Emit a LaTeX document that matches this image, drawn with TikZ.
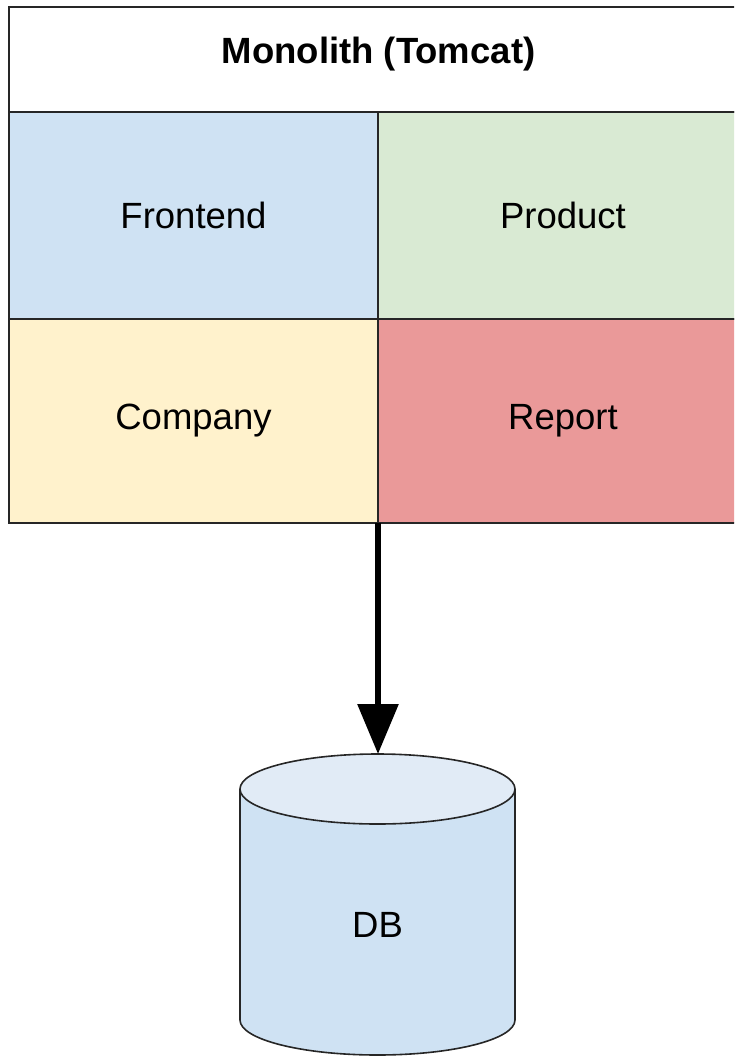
\documentclass[tikz,border=0pt]{standalone}
\usepackage{fontspec}
\setmainfont{Liberation Sans}
\usetikzlibrary{arrows.meta}
\definecolor{cfront}{HTML}{CFE2F3}
\definecolor{cprod}{HTML}{D9EAD3}
\definecolor{ccomp}{HTML}{FFF2CC}
\definecolor{crep}{HTML}{EA9999}
\definecolor{cdbtop}{HTML}{E1EBF6}
\begin{document}
\begin{tikzpicture}[x=1pt,y=1pt,
  cell/.style={draw=black!85,line width=1.6pt,inner sep=0pt,outer sep=0pt,anchor=north west,
    font=\fontsize{36.5}{40}\selectfont},
  title/.style={cell,font=\fontsize{36.5}{40}\selectfont\bfseries,text height=26pt,text depth=19pt},
  flow/.style={line width=6pt,-{Triangle[width=40pt,length=50pt]}}]
\useasboundingbox (0,0) rectangle (734,-1058);
\begin{scope}
\clip (0,0) rectangle (734,-1058);
\node[title,minimum width=739pt,minimum height=105pt] (mono) at (9,-7) {Monolith (Tomcat)};
\node[cell,fill=cfront,minimum width=369pt,minimum height=207pt] (front) at (9,-112) {Frontend};
\node[cell,fill=cprod,minimum width=370pt,minimum height=207pt] (prod) at (378,-112) {Product};
\node[cell,fill=ccomp,minimum width=369pt,minimum height=204pt] (comp) at (9,-319) {Company};
\node[cell,fill=crep,minimum width=370pt,minimum height=204pt] (rep) at (378,-319) {Report};
\end{scope}
% DB cylinder
\filldraw[fill=cfront,draw=black!85,line width=1.6pt]
  (240,-789) -- (240,-1020) arc (180:360:137.5 and 35) -- (515,-789);
\filldraw[fill=cdbtop,draw=black!85,line width=1.6pt] (377.5,-789) ellipse (137.5 and 35);
\coordinate (dbtop) at (378,-754);
\node[font=\fontsize{36.5}{40}\selectfont] (db) at (377.5,-925) {DB};
\draw[flow] (comp.south east) -- (dbtop);
\end{tikzpicture}
\end{document}
